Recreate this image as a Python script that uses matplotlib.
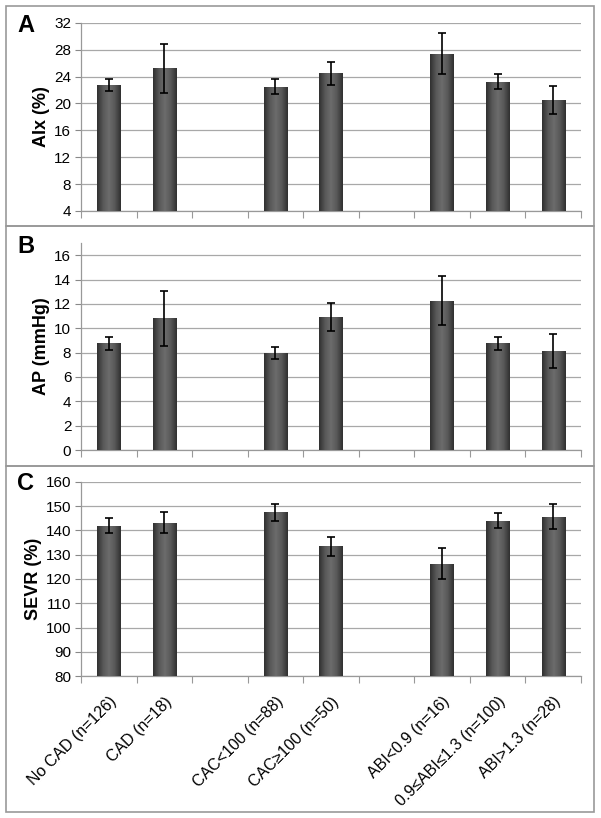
import numpy as np
import matplotlib
matplotlib.use("Agg")
import matplotlib.pyplot as plt
from matplotlib.patches import Rectangle
from matplotlib.colors import LinearSegmentedColormap

plt.rcParams["font.family"] = ["Liberation Sans", "DejaVu Sans"]

# categories (empty strings are the gaps between groups)
groups = ["No CAD (n=126)", "CAD (n=18)", "",
          "CAC<100 (n=88)", "CAC\u2265100 (n=50)", "",
          "ABI<0.9 (n=16)", "0.9\u2264ABI\u22641.3 (n=100)", "ABI>1.3 (n=28)"]

# panel A: AIx (%)
aix_mean = [22.7, 25.2, None, 22.5, 24.5, None, 27.4, 23.2, 20.5]
aix_err = [0.9, 3.6, None, 1.1, 1.7, None, 3.0, 1.1, 2.1]

# panel B: AP (mmHg)
ap_mean = [8.75, 10.8, None, 7.95, 10.9, None, 12.25, 8.75, 8.1]
ap_err = [0.5, 2.25, None, 0.5, 1.15, None, 2.0, 0.55, 1.4]

# panel C: SEVR (%)
sevr_mean = [142.0, 143.2, None, 147.5, 133.5, None, 126.3, 144.0, 145.7]
sevr_err = [3.0, 4.4, None, 3.4, 4.0, None, 6.5, 3.1, 5.2]

panels = [
    ("A", "AIx (%)", aix_mean, aix_err, (4, 32), np.arange(4, 33, 4)),
    ("B", "AP (mmHg)", ap_mean, ap_err, (0, 17), np.arange(0, 17, 2)),
    ("C", "SEVR (%)", sevr_mean, sevr_err, (80, 160), np.arange(80, 161, 10)),
]

W, H = 601, 818
fig = plt.figure(figsize=(W / 100, H / 100), dpi=100)

# axes extents in pixels: (top, bottom)
ax_px = [(22.7, 211), (243, 450), (482, 676)]
box_px = [(6, 226), (226, 466), (466, 812)]
letter_y = [25, 247, 484]

cmap = LinearSegmentedColormap.from_list("bar", ["#303030", "#585858", "#6c6c6c", "#585858", "#303030"])
grad = np.linspace(0, 1, 64).reshape(1, -1)

x = np.arange(len(groups))

for i, (letter, ylabel, mean, err, ylim, yticks) in enumerate(panels):
    top, bot = ax_px[i]
    ax = fig.add_axes([81 / W, 1 - bot / H, 500 / W, (bot - top) / H])

    idx = [k for k in range(len(groups)) if mean[k] is not None]
    vals = [mean[k] for k in idx]
    errs = [err[k] for k in idx]
    base = ylim[0]
    bars = ax.bar(idx, np.array(vals) - base, bottom=base, width=0.42,
                  color="#555555", edgecolor="none", zorder=3)
    for b in bars:
        im = ax.imshow(grad, cmap=cmap, aspect="auto", zorder=3,
                       extent=[b.get_x(), b.get_x() + b.get_width(), b.get_y(), b.get_y() + b.get_height()])
        im.set_clip_path(b)
    ax.errorbar(idx, vals, yerr=errs, fmt="none", ecolor="black",
                elinewidth=1.2, capsize=3, capthick=1.2, zorder=4)

    ax.set_xlim(-0.5, len(groups) - 0.5)
    ax.set_ylim(*ylim)
    ax.set_yticks(yticks)
    ax.tick_params(axis="y", labelsize=11, length=4, color="#888888", pad=3)
    ax.yaxis.grid(True, color="#a8a8a8", linewidth=0.9)
    ax.set_axisbelow(True)
    for s in ["top", "right"]:
        ax.spines[s].set_visible(False)
    for s in ["left", "bottom"]:
        ax.spines[s].set_color("#999999")
        ax.spines[s].set_linewidth(0.9)

    ax.set_xticks(np.arange(-0.5, len(groups), 1))
    ax.set_xticklabels([])
    ax.tick_params(axis="x", length=5, color="#999999")
    if i == 2:
        ax.set_xticks(x, minor=True)
        ax.set_xticklabels(groups, minor=True, rotation=45, ha="right",
                           rotation_mode="anchor", fontsize=11.5)
        ax.tick_params(axis="x", which="minor", length=0, pad=13)

    ax.set_ylabel(ylabel, fontsize=13, fontweight="bold", labelpad=3)

    fig.text(17 / W, 1 - letter_y[i] / H, letter, fontsize=17,
             fontweight="bold", va="center", ha="left")

    bt, bb = box_px[i]
    fig.patches.append(Rectangle((6 / W, 1 - bb / H), 588 / W, (bb - bt) / H,
                                 transform=fig.transFigure, fill=False,
                                 edgecolor="#999999", linewidth=1.2))

fig.savefig("out.png", dpi=100)
